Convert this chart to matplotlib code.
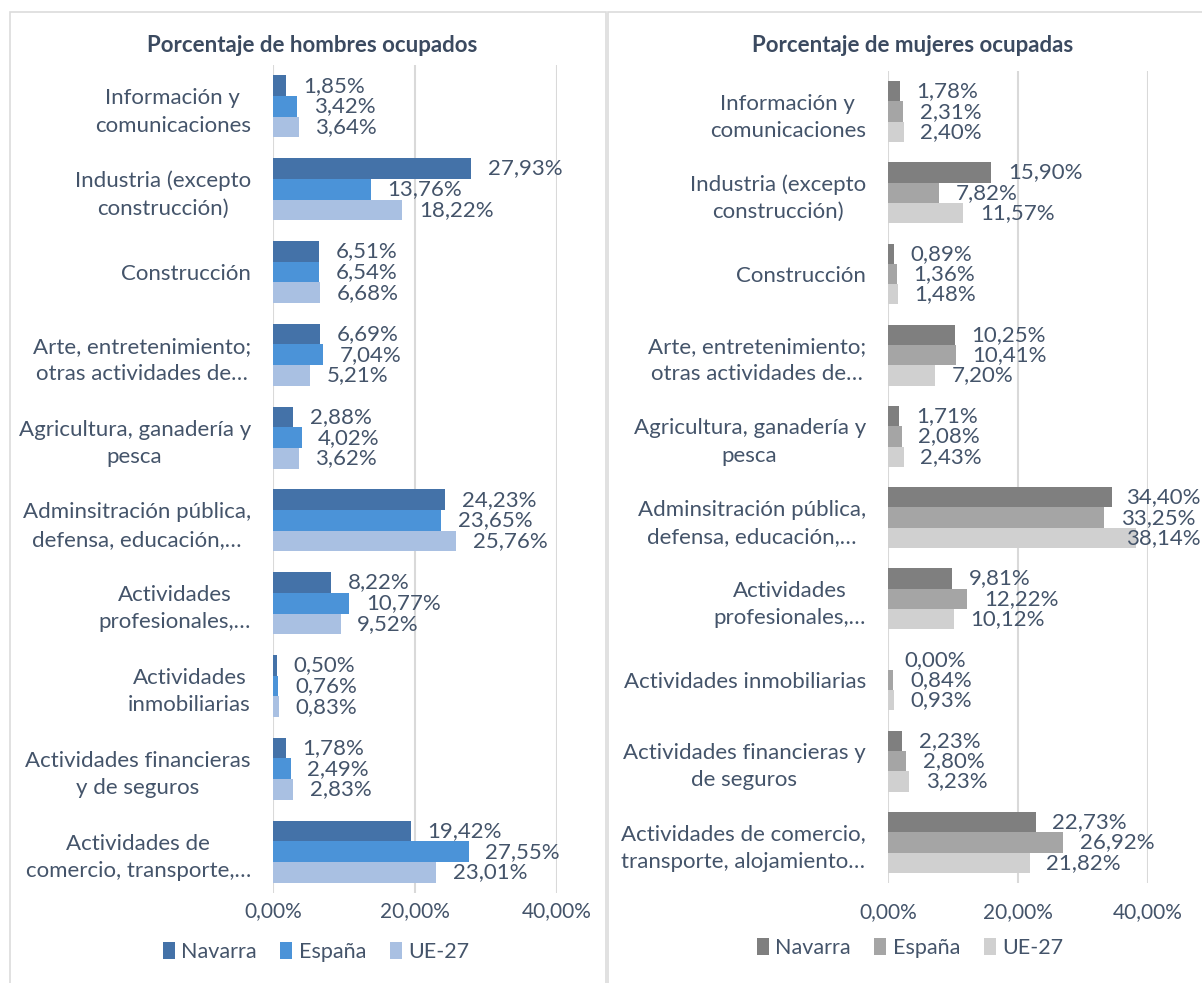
import matplotlib
matplotlib.use("Agg")
import matplotlib.pyplot as plt
from matplotlib.patches import Patch, Rectangle
from matplotlib.ticker import FuncFormatter
import numpy as np

plt.rcParams['font.family'] = ['Lato', 'DejaVu Sans']

categories_h = [
    "Información y\ncomunicaciones",
    "Industria (excepto\nconstrucción)",
    "Construcción",
    "Arte, entretenimiento;\notras actividades de…",
    "Agricultura, ganadería y\npesca",
    "Adminsitración pública,\ndefensa, educación,…",
    "Actividades\nprofesionales,…",
    "Actividades\ninmobiliarias",
    "Actividades financieras\ny de seguros",
    "Actividades de\ncomercio, transporte,…",
]
categories_m = [
    "Información y\ncomunicaciones",
    "Industria (excepto\nconstrucción)",
    "Construcción",
    "Arte, entretenimiento;\notras actividades de…",
    "Agricultura, ganadería y\npesca",
    "Adminsitración pública,\ndefensa, educación,…",
    "Actividades\nprofesionales,…",
    "Actividades inmobiliarias",
    "Actividades financieras y\nde seguros",
    "Actividades de comercio,\ntransporte, alojamiento…",
]
series_names = ["Navarra", "España", "UE-27"]

hombres_navarra = [1.85, 27.93, 6.51, 6.69, 2.88, 24.23, 8.22, 0.50, 1.78, 19.42]
hombres_espana = [3.42, 13.76, 6.54, 7.04, 4.02, 23.65, 10.77, 0.76, 2.49, 27.55]
hombres_ue = [3.64, 18.22, 6.68, 5.21, 3.62, 25.76, 9.52, 0.83, 2.83, 23.01]

mujeres_navarra = [1.78, 15.90, 0.89, 10.25, 1.71, 34.40, 9.81, 0.00, 2.23, 22.73]
mujeres_espana = [2.31, 7.82, 1.36, 10.41, 2.08, 33.25, 12.22, 0.84, 2.80, 26.92]
mujeres_ue = [2.40, 11.57, 1.48, 7.20, 2.43, 38.14, 10.12, 0.93, 3.23, 21.82]

xticks = [0, 20, 40]

blue_colors = ["#4472a8", "#4b93d8", "#a9c0e2"]
gray_colors = ["#7f7f7f", "#a5a5a5", "#d0d0d0"]
text_color = "#44546a"
grid_color = "#d9d9d9"

W, H = 1202, 983
fig = plt.figure(figsize=(W / 100, H / 100), dpi=100)

def px_rect(x0, y0, x1, y1):
    return [x0 / W, 1 - y1 / H, (x1 - x0) / W, (y1 - y0) / H]

# panel borders
for (x0, x1) in [(10, 606), (608, 1210)]:
    fig.add_artist(Rectangle((x0 / W, -0.05), (x1 - x0) / W, 1.05 - 12 / H,
                             transform=fig.transFigure, fill=False,
                             edgecolor="#dcdcdc", linewidth=1.2))

def fmt(v):
    return f"{v:.2f}".replace(".", ",") + "%"

all_labels = []

def panel(rect, cats, data, colors, title, title_xy, legend_xy, xpad):
    ax = fig.add_axes(rect)
    n = len(cats)
    y = np.arange(n)
    h = 0.25
    for i, (vals, col) in enumerate(zip(data, colors)):
        pos = y + (i - 1) * h
        ax.barh(pos, vals, height=h, color=col, zorder=3)
        for p, v in zip(pos, vals):
            t = ax.annotate(fmt(v), xy=(v, p), xytext=(12, 0), textcoords="offset points",
                            va="center", ha="left", fontsize=16, color=text_color,
                            zorder=4)
            all_labels.append(t)
    ax.set_ylim(n - 0.5, -0.5)
    ax.set_xlim(0, 40)
    ax.set_xticks(xticks)
    ax.xaxis.set_major_formatter(FuncFormatter(lambda v, p: fmt(v)))
    ax.set_yticks(y)
    ax.set_yticklabels(cats, multialignment="center", linespacing=1.45)
    ax.tick_params(axis="y", length=0, pad=16, labelsize=16, labelcolor=text_color)
    ax.tick_params(axis="x", length=0, pad=xpad, labelsize=15, labelcolor=text_color)
    for s in ax.spines.values():
        s.set_visible(False)
    ax.grid(axis="x", color=grid_color, linewidth=1.5, zorder=0)
    ax.set_axisbelow(True)
    fig.text(title_xy[0] / W, 1 - title_xy[1] / H, title, ha="center", va="center",
             fontsize=16, fontweight="bold", color="#3b4a60")
    handles = [Patch(facecolor=c, edgecolor="none") for c in colors]
    fig.legend(handles, series_names, loc="center",
               bbox_to_anchor=(legend_xy[0] / W, 1 - legend_xy[1] / H),
               ncol=3, frameon=False, fontsize=15.5, handlelength=0.55,
               handleheight=0.85, handletextpad=0.3, columnspacing=1.1,
               labelcolor=text_color)
    return ax

panel(px_rect(273, 65, 557, 893), categories_h,
      [hombres_navarra, hombres_espana, hombres_ue], blue_colors,
      "Porcentaje de hombres ocupados", (312, 45), (316, 952), 6)
panel(px_rect(888, 71, 1148, 883), categories_m,
      [mujeres_navarra, mujeres_espana, mujeres_ue], gray_colors,
      "Porcentaje de mujeres ocupadas", (913, 45), (910, 948), 14)

# keep data labels inside the figure, like the spreadsheet does
fig.canvas.draw()
r = fig.canvas.get_renderer()
for t in all_labels:
    bb = t.get_window_extent(r)
    if bb.x1 > W - 1:
        shift_pt = (bb.x1 - (W - 1)) * 72 / fig.dpi
        t.set_position((12 - shift_pt, 0))

fig.savefig("out.png", dpi=100)
